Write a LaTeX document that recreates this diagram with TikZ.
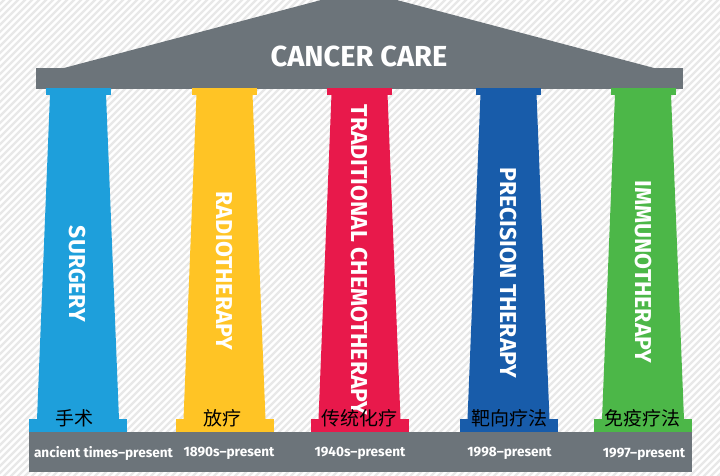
\documentclass[tikz,border=0pt]{standalone}
\usepackage{fontspec}
\setmainfont{Fira Sans}
\newfontfamily\cjk{Noto Sans CJK SC}
\usepackage{xcolor}
\usepackage{tikz}

\definecolor{roofgray}{RGB}{108,116,122}
\definecolor{surgblue}{RGB}{30,159,219}
\definecolor{radyellow}{RGB}{255,196,37}
\definecolor{chemred}{RGB}{232,25,75}
\definecolor{precblue}{RGB}{24,92,170}
\definecolor{immgreen}{RGB}{76,183,72}

\tikzset{
    stripe/.style={draw=black!9, line width=2.4pt},
    rooftext/.style={text=white, font=\bfseries\fontsize{29}{29}\selectfont},
    pillartext/.style={rotate=-90, text=white, font=\bfseries\fontsize{23}{23}\selectfont},
    hantext/.style={text=black, font=\cjk\fontsize{19}{19}\selectfont},
    datetext/.style={text=white, font=\bfseries\fontsize{13.6}{13.6}\selectfont}
}

\begin{document}
\begin{tikzpicture} [x=1pt, y=-1pt]

        \useasboundingbox (0, 0) rectangle (720, 475);
        \clip (0, 0) rectangle (720, 475);

        % background
        \fill[white] (0, 0) rectangle (720, 475);
        \foreach \i in {-490,-483,...,720} \draw[stripe] (\i, 480) -- ++(485, -485);

        % roof
        \fill[roofgray] (36, 68) rectangle (683, 89);
        \fill[roofgray] (62, 68.5) -- (359, -10) -- (656, 68.5) -- cycle;
        \node[rooftext] (title) at (359, 56) {CANCER CARE};

        % base plate
        \fill[roofgray] (29, 432) rectangle (692, 472);

        % surgery
        \fill[surgblue] (45.5, 88) rectangle (110.5, 94.5);
        \fill[surgblue] (50, 94) -- (106, 94) -- (119, 419.5) -- (37, 419.5) -- cycle;
        \fill[surgblue] (29, 419) rectangle (127, 432);

        % radiotherapy
        \fill[radyellow] (192, 88) rectangle (257, 94.5);
        \fill[radyellow] (196.5, 94) -- (252.5, 94) -- (265.5, 419.5) -- (183.5, 419.5) -- cycle;
        \fill[radyellow] (175.5, 419) rectangle (273.5, 432);

        % chemotherapy
        \fill[chemred] (327, 88) rectangle (392, 94.5);
        \fill[chemred] (331.5, 94) -- (387.5, 94) -- (400.5, 419.5) -- (318.5, 419.5) -- cycle;
        \fill[chemred] (310.5, 419) rectangle (408.5, 432);

        % precision therapy
        \fill[precblue] (476, 88) rectangle (541, 94.5);
        \fill[precblue] (480.5, 94) -- (536.5, 94) -- (549.5, 419.5) -- (467.5, 419.5) -- cycle;
        \fill[precblue] (459.5, 419) rectangle (557.5, 432);

        % immunotherapy
        \fill[immgreen] (610.5, 88) rectangle (675.5, 94.5);
        \fill[immgreen] (615, 94) -- (671, 94) -- (684, 419.5) -- (602, 419.5) -- cycle;
        \fill[immgreen] (594, 419) rectangle (692, 432);

        % pillar labels
        \node[pillartext] (surg) at (77, 274) {SURGERY};
        \node[pillartext] (radio) at (224, 271) {RADIOTHERAPY};
        \node[pillartext] (chemo) at (359.5, 260) {TRADITIONAL CHEMOTHERAPY};
        \node[pillartext] (prec) at (508.5, 273) {PRECISION THERAPY};
        \node[pillartext] (immu) at (643, 272) {IMMUNOTHERAPY};

        \node[hantext] (surgzh) at (74, 418) {手术};
        \node[hantext] (radiozh) at (222.5, 418) {放疗};
        \node[hantext] (chemozh) at (359, 418) {传统化疗};
        \node[hantext] (preczh) at (509, 418) {靶向疗法};
        \node[hantext] (immuzh) at (642.5, 418) {免疫疗法};

        \node[datetext] (surgdate) at (103.5, 453) {ancient times–present};
        \node[datetext] (radiodate) at (229, 453) {1890s–present};
        \node[datetext] (chemodate) at (360, 453) {1940s–present};
        \node[datetext] (precdate) at (509.5, 453) {1998–present};
        \node[datetext] (immudate) at (644, 454) {1997–present};
    \end{tikzpicture}
\end{document}
